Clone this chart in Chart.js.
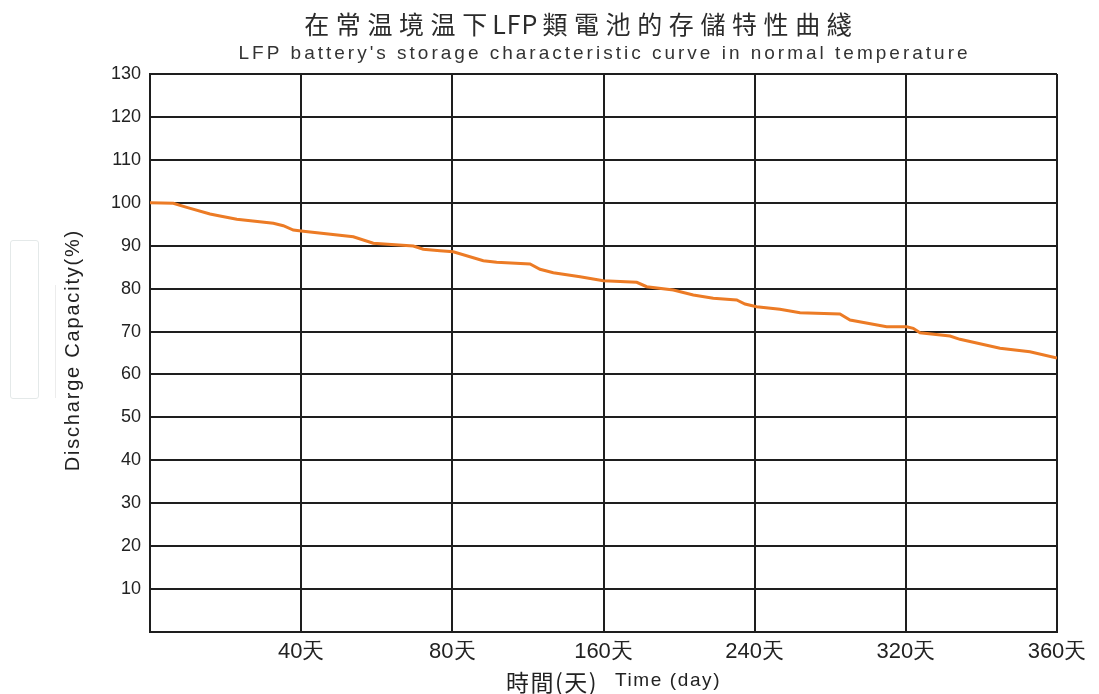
<!DOCTYPE html>
<html>
<head>
<meta charset="utf-8">
<script src="https://cdn.jsdelivr.net/npm/chart.js@4.4.1/dist/chart.umd.min.js"></script>
<style>
  html, body { margin: 0; padding: 0; background: #fff; }
  #wrap { position: relative; width: 1099px; height: 694px; }
  #ghost { position: absolute; left: 10px; top: 240px; width: 27px; height: 157px; border: 1px solid #e4e9e9; border-radius: 3px; }
  #ghost-line { position: absolute; left: 55px; top: 285px; width: 1px; height: 113px; background: #ececec; }
</style>
</head>
<body>
<div id="wrap">
  <canvas id="storageChart" width="1099" height="694"></canvas>
  <div id="ghost"></div>
  <div id="ghost-line"></div>
</div>
<script>
// x positions are in gridline units (0 = origin, 1 = "40天", ... 6 = "360天")
const xTickLabels = ['', '40天', '80天', '160天', '240天', '320天', '360天'];
const yTicks = [10, 20, 30, 40, 50, 60, 70, 80, 90, 100, 110, 120, 130];

const curveX = [0, 0.154, 0.243, 0.397, 0.463, 0.574, 0.816, 0.882, 0.948, 1.014,
  1.345, 1.477, 1.742, 1.808, 1.918, 2.006, 2.205, 2.293, 2.514, 2.580,
  2.668, 2.845, 2.999, 3.220, 3.286, 3.462, 3.594, 3.726, 3.881, 3.936,
  4.013, 4.167, 4.300, 4.564, 4.631, 4.873, 5.006, 5.049, 5.094, 5.292,
  5.358, 5.623, 5.821, 6.0];
const capacity = [100.0, 99.87, 98.94, 97.38, 96.92, 96.15, 95.21, 94.66, 93.65, 93.35,
  92.09, 90.56, 89.93, 89.16, 88.83, 88.60, 86.50, 86.13, 85.73, 84.50,
  83.71, 82.77, 81.84, 81.47, 80.44, 79.68, 78.51, 77.74, 77.35, 76.41,
  75.79, 75.18, 74.39, 74.08, 72.69, 71.13, 71.13, 70.75, 69.73, 68.96,
  68.19, 66.09, 65.30, 63.83];

// title split so "LFP" stays tight while the CJK part is spaced out
const titleZhParts = ['在常温境温下', 'LFP', '類電池的存儲特性曲綫'];
const titleEn = "LFP battery's storage characteristic curve in normal temperature";
const xTitleZh = '時間(天)';
const xTitleEn = 'Time (day)';
const yTitle = 'Discharge Capacity(%)';

const gridColor = '#1e1e1e';

// titles drawn by hand so they can get letter spacing
const headerPlugin = {
  id: 'header',
  afterDraw(chart) {
    const ctx = chart.ctx;
    function measure(text, font, spacing) {
      ctx.save();
      ctx.font = font;
      ctx.letterSpacing = spacing + 'px';
      const w = ctx.measureText(text).width - spacing;
      ctx.restore();
      return w;
    }
    function line(text, font, spacing, x, cy, color) {
      ctx.save();
      ctx.font = font;
      ctx.letterSpacing = spacing + 'px';
      ctx.fillStyle = color;
      ctx.textBaseline = 'middle';
      ctx.textAlign = 'left';
      ctx.fillText(text, x, cy);
      ctx.restore();
    }
    const zhFont = '25px "Noto Sans CJK TC"';
    const enFont = '19px "Liberation Sans"';
    const spacings = [6.6, 1, 6.6];
    const gap = 5;
    const widths = titleZhParts.map((t, i) => measure(t, zhFont, spacings[i]));
    const total = widths.reduce((a, b) => a + b, 0) + gap * 2;
    let tx = 578 - total / 2;
    titleZhParts.forEach((t, i) => {
      line(t, zhFont, spacings[i], tx, 24, '#2b2b2b');
      tx += widths[i] + gap;
    });
    line(titleEn, enFont, 3, 603 - measure(titleEn, enFont, 3) / 2, 54, '#333');

    // x axis title
    line(xTitleZh, '23px "Noto Sans CJK TC"', 1.5, 506, 682, '#222');
    line(xTitleEn, '19px "Liberation Sans"', 1.6, 615, 681, '#222');

    // y axis title (rotated)
    const yFont = '20px "Liberation Sans"';
    const yw = measure(yTitle, yFont, 1.8);
    ctx.save();
    ctx.translate(73, 351);
    ctx.rotate(-Math.PI / 2);
    line(yTitle, yFont, 1.8, -yw / 2, 0, '#222');
    ctx.restore();
  }
};

const points = curveX.map((x, i) => ({ x: x, y: capacity[i] }));

new Chart(document.getElementById('storageChart'), {
  type: 'line',
  data: {
    datasets: [{
      data: points,
      borderColor: '#ec7b25',
      borderWidth: 3,
      pointRadius: 0,
      tension: 0,
      fill: false
    }]
  },
  options: {
    responsive: false,
    animation: false,
    layout: { padding: { top: 74, right: 42, left: 0, bottom: 0 } },
    plugins: {
      legend: { display: false },
      tooltip: { enabled: false }
    },
    scales: {
      x: {
        type: 'linear',
        min: 0,
        max: 6,
        afterBuildTicks: function(scale) {
          scale.ticks = xTickLabels.map((l, i) => ({ value: i }));
        },
        afterFit: function(scale) { scale.height = 62; },
        ticks: {
          color: '#222',
          font: { family: 'Liberation Sans', size: 22 },
          padding: 7,
          maxRotation: 0,
          autoSkip: false,
          callback: function(v) { return xTickLabels[v] || ''; }
        },
        grid: { color: gridColor, lineWidth: 2, drawTicks: false },
        border: { color: gridColor, width: 2 }
      },
      y: {
        min: 0,
        max: 130,
        afterBuildTicks: function(scale) {
          scale.ticks = [0].concat(yTicks).map(v => ({ value: v }));
        },
        afterFit: function(scale) { scale.width = 150; },
        ticks: {
          color: '#222',
          font: { family: 'Liberation Sans', size: 18 },
          padding: 9,
          callback: function(v) { return v === 0 ? '' : v; }
        },
        grid: { color: gridColor, lineWidth: 2, drawTicks: false },
        border: { color: gridColor, width: 2 }
      }
    }
  },
  plugins: [headerPlugin]
});
</script>
</body>
</html>
